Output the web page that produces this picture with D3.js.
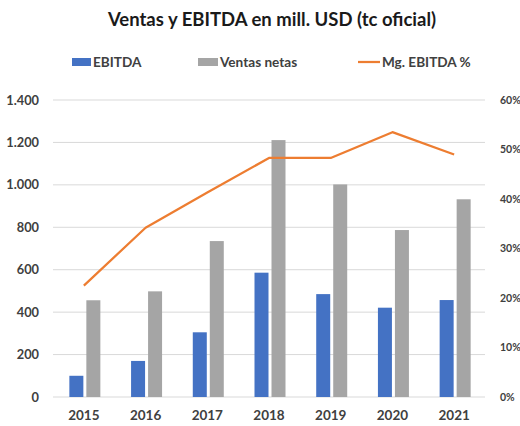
<!DOCTYPE html>
<html>
<head>
<meta charset="utf-8">
<script src="https://cdn.jsdelivr.net/npm/d3@7"></script>
<style>
  body { margin: 0; background: #fff; }
  text { font-family: Lato, "Open Sans", sans-serif; }
</style>
</head>
<body>
<div id="chart"></div>
<script>
// data
var years = ['2015', '2016', '2017', '2018', '2019', '2020', '2021'];
var ebitda = [100, 170, 305, 586, 485, 421, 457];
var ventas = [456, 498, 735, 1211, 1002, 787, 932];
var margen = [22.5, 34.2, 41.3, 48.3, 48.3, 53.5, 49.0];
var leftTicks = [0, 200, 400, 600, 800, 1000, 1200, 1400];
var rightTicks = [0, 10, 20, 30, 40, 50, 60];

var width = 520, height = 426;
var m = {top: 100, right: 35, bottom: 29, left: 53};

var svg = d3.select('#chart').append('svg')
  .attr('width', width)
  .attr('height', height);

var x = d3.scaleBand().domain(years).range([m.left, width - m.right]);
var y = d3.scaleLinear().domain([0, 1400]).range([height - m.bottom, m.top]);
var y2 = d3.scaleLinear().domain([0, 60]).range([height - m.bottom, m.top]);

// gridlines
svg.append('g')
  .selectAll('line')
  .data(leftTicks)
  .join('line')
  .attr('x1', m.left)
  .attr('x2', width - m.right)
  .attr('y1', d => y(d))
  .attr('y2', d => y(d))
  .attr('stroke', '#d9d9d9')
  .attr('stroke-width', 1);

// left axis
var fmt = d3.formatLocale({decimal: ',', thousands: '.', grouping: [3], currency: ['', '']}).format(',');
svg.append('g')
  .attr('transform', 'translate(' + (m.left - 11) + ',0)')
  .call(d3.axisLeft(y).tickValues(leftTicks).tickFormat(fmt).tickSize(0))
  .call(g => g.select('.domain').remove())
  .selectAll('text')
  .attr('fill', '#404040')
  .attr('font-weight', 'bold')
  .attr('font-size', 12.8);

// right axis
svg.append('g')
  .attr('transform', 'translate(' + (width - m.right + 12) + ',0)')
  .call(d3.axisRight(y2).tickValues(rightTicks).tickFormat(d => d + '%').tickSize(0))
  .call(g => g.select('.domain').remove())
  .selectAll('text')
  .attr('fill', '#404040')
  .attr('font-weight', 'bold')
  .attr('font-size', 10.5);

// x axis labels
svg.append('g')
  .attr('transform', 'translate(0,' + (height - m.bottom + 10) + ')')
  .call(d3.axisBottom(x).tickSize(0))
  .call(g => g.select('.domain').remove())
  .selectAll('text')
  .attr('fill', '#404040')
  .attr('font-weight', 'bold')
  .attr('font-size', 13.5);

// bars
var barW = 14, gap = 3;
svg.append('g')
  .selectAll('rect')
  .data(years)
  .join('rect')
  .attr('x', (d) => x(d) + x.bandwidth() / 2 - barW - gap / 2 + 1)
  .attr('y', (d, i) => y(ebitda[i]))
  .attr('width', barW)
  .attr('height', (d, i) => y(0) - y(ebitda[i]))
  .attr('fill', '#4472C4');

svg.append('g')
  .selectAll('rect')
  .data(years)
  .join('rect')
  .attr('x', (d) => x(d) + x.bandwidth() / 2 + gap / 2 + 1)
  .attr('y', (d, i) => y(ventas[i]))
  .attr('width', barW)
  .attr('height', (d, i) => y(0) - y(ventas[i]))
  .attr('fill', '#A5A5A5');

// margin line
var line = d3.line()
  .x((d, i) => x(years[i]) + x.bandwidth() / 2)
  .y(d => y2(d));

svg.append('path')
  .datum(margen)
  .attr('d', line)
  .attr('fill', 'none')
  .attr('stroke', '#ED7D31')
  .attr('stroke-width', 2.25)
  .attr('stroke-linejoin', 'round');

// title
svg.append('text')
  .attr('x', 272)
  .attr('y', 26)
  .attr('text-anchor', 'middle')
  .attr('font-size', 18.5)
  .attr('font-weight', 'bold')
  .attr('fill', '#1a1a1a')
  .text('Ventas y EBITDA en mill. USD (tc oficial)');

// legend
var legend = svg.append('g').attr('font-size', 13.6).attr('font-weight', 'bold').attr('fill', '#404040');
legend.append('rect').attr('x', 72).attr('y', 58).attr('width', 19).attr('height', 8).attr('fill', '#4472C4');
legend.append('text').attr('x', 93).attr('y', 67).text('EBITDA');
legend.append('rect').attr('x', 198).attr('y', 58).attr('width', 20).attr('height', 8).attr('fill', '#A5A5A5');
legend.append('text').attr('x', 220).attr('y', 67).text('Ventas netas');
legend.append('line').attr('x1', 358).attr('x2', 380).attr('y1', 62).attr('y2', 62)
  .attr('stroke', '#ED7D31').attr('stroke-width', 2.25);
legend.append('text').attr('x', 382).attr('y', 67).text('Mg. EBITDA %');
</script>
</body>
</html>
